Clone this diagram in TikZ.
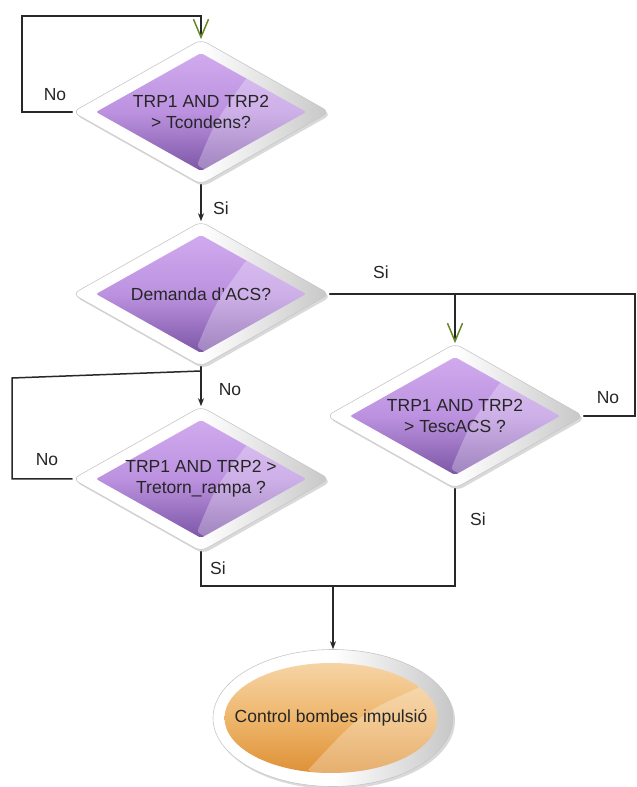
\documentclass[tikz,border=0pt]{standalone}
\usepackage{fontspec}
\setmainfont{Liberation Sans}
\usetikzlibrary{arrows.meta,shapes.geometric,shadows,calc}

\definecolor{lilaclar}{RGB}{208,170,238}
\definecolor{lilamig}{RGB}{188,146,224}
\definecolor{lilafosc}{RGB}{124,86,166}
\definecolor{tarclar}{RGB}{246,212,165}
\definecolor{tarmig}{RGB}{238,182,108}
\definecolor{tarfosc}{RGB}{222,145,55}
\definecolor{fletxa}{RGB}{105,135,40}
\definecolor{linia}{RGB}{40,40,40}

\begin{document}
\begin{tikzpicture}[x=1pt,y=1pt,line cap=round,
  vora/.style={draw=black!22,line width=.6pt,left color=white,right color=black!22,middle color=white,
    drop shadow={opacity=.3,shadow xshift=2pt,shadow yshift=-2.5pt}},
  pregunta/.style={diamond,aspect=1.77,vora,minimum width=257pt,minimum height=145pt,inner sep=0pt,rounded corners=7pt},
  interior/.style={diamond,aspect=1.78,minimum width=210pt,minimum height=118pt,inner xsep=-8pt,inner ysep=0pt,rounded corners=2pt,
    top color=lilaclar,bottom color=lilafosc,middle color=lilamig,
    align=center,font=\fontsize{17.5}{21}\selectfont,text=black!85},
  final/.style={ellipse,vora,minimum width=240pt,minimum height=137pt,inner sep=0pt},
  finalint/.style={ellipse,minimum width=213pt,minimum height=110pt,inner xsep=-22pt,inner ysep=0pt,
    top color=tarclar,bottom color=tarfosc,middle color=tarmig,
    font=\fontsize{17.5}{21}\selectfont,text=black!85},
  brillo/.style n args={3}{path picture={
    \fill[white,opacity=.28] ($(path picture bounding box.center)+(#1)$)
      .. controls ($(path picture bounding box.center)+(#2)$) .. ($(path picture bounding box.center)+(#3)$)
      -- ++(250,-150) -- ++(0,400) -- cycle;}},
  etiq/.style={font=\fontsize{17.5}{20}\selectfont,text=black!85},
  connector/.style={draw=linia,line width=1.5pt},
  ple/.style={connector,-{Stealth[length=8pt,width=6pt]}},
  obert/.style={connector,-{Straight Barb[length=18pt,width=15pt,color=fletxa,line width=1.5pt]}}]
\useasboundingbox (0,0) rectangle (637,787);
% rombes de decisio
\node[pregunta] (q1) at (201,675) {};
\node[interior,brillo={44,32}{14,-10}{-4,-53}] (q1t) at (201,675) {TRP1 AND TRP2\\> Tcondens?};
\node[pregunta] (q2) at (201,493) {};
\node[interior,brillo={44,32}{14,-10}{-4,-53}] (q2t) at (201,493) {Demanda d'ACS?};
\node[pregunta] (q3) at (455,371) {};
\node[interior,brillo={44,32}{14,-10}{-4,-53}] (q3t) at (455,371) {TRP1 AND TRP2\\> TescACS ?};
\node[pregunta] (q4) at (201,308) {};
\node[interior,brillo={44,32}{14,-10}{-4,-53}] (q4t) at (201,308) {TRP1 AND TRP2 >\\Tretorn\_rampa ?};
% accio final
\node[final] (fi) at (333,69) {};
\node[finalint,brillo={87,30}{30,5}{-23,-52}] (fit) at (331,69) {Control bombes impulsió};
% bucle superior
\draw[obert] (q1.west) -| (22,771) -| (q1.north);
\draw[ple] (q1.south) -- (q2.north);
% branca dreta
\draw[connector] (q2.east) -| (635,371) -- (q3.east);
\draw[obert] (q2.east -| q3.north) -- (q3.north);
% branca esquerra
\coordinate (j1) at (201,416);
\draw[ple] (q2.south) -- (q4.north);
\draw[connector] (q4.west) -| (12,409) -- (j1);
% unio inferior
\coordinate (j2) at (333,201);
\draw[connector] (q4.south) |- (j2) -| (q3.south);
\draw[ple] (j2) -- (fi.north);
% etiquetes
\node[etiq] (no1) at (55,692) {No};
\node[etiq] (si1) at (221,579) {Si};
\node[etiq] (si2) at (381,515) {Si};
\node[etiq] (no2) at (230,397) {No};
\node[etiq] (no3) at (47,327) {No};
\node[etiq] (no4) at (608,389) {No};
\node[etiq] (si3) at (478,268) {Si};
\node[etiq] (si4) at (218,219) {Si};
\end{tikzpicture}
\end{document}
